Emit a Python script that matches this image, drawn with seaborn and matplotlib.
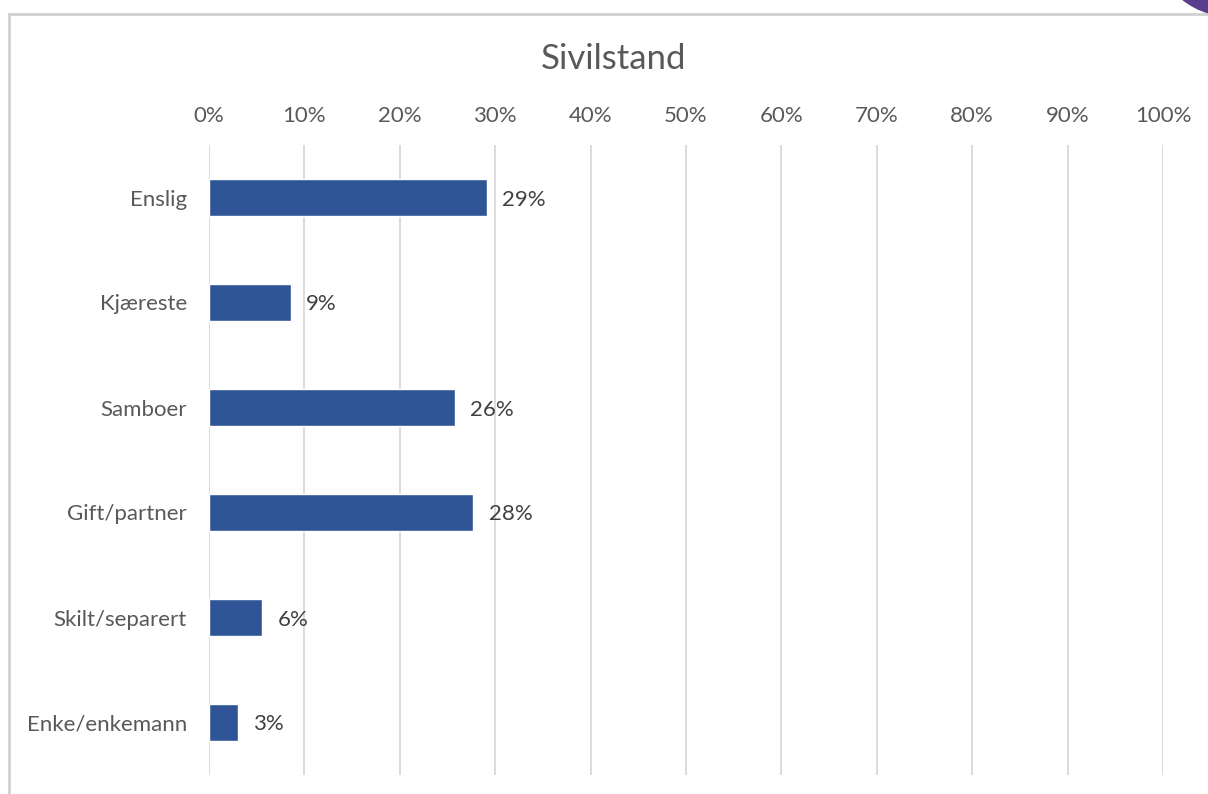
import matplotlib
matplotlib.use("Agg")
import matplotlib.pyplot as plt
import matplotlib.patches as mpatches
import pandas as pd
import seaborn as sns
from matplotlib.ticker import PercentFormatter

# data
kategorier = ["Enslig", "Kjæreste", "Samboer", "Gift/partner", "Skilt/separert", "Enke/enkemann"]
andel = [0.291, 0.086, 0.258, 0.277, 0.056, 0.030]
etiketter = ["29%", "9%", "26%", "28%", "6%", "3%"]

df = pd.DataFrame({"Sivilstand": kategorier, "Andel": andel})

sns.set_style("white")
plt.rcParams["font.family"] = ["Lato", "DejaVu Sans"]

fig = plt.figure(figsize=(12.08, 7.94), dpi=100)
ax = fig.add_axes([209 / 1208, 1 - 775 / 794, (1163 - 209) / 1208, (775 - 145) / 794])

sns.barplot(data=df, y="Sivilstand", x="Andel", color="#2F5597", saturation=1,
            width=0.35, ax=ax, zorder=3)

ax.set_xlim(0, 1)
ax.set_xticks([i / 10 for i in range(11)])
ax.xaxis.set_major_formatter(PercentFormatter(1.0, decimals=0))
ax.xaxis.tick_top()
ax.tick_params(axis="x", length=0, pad=14, labelsize=16, labelcolor="#595959")
ax.tick_params(axis="y", length=0, pad=16, labelsize=16, labelcolor="#595959")
ax.grid(axis="x", color="#d9d9d9", linewidth=1.3, zorder=0)
ax.set_xlabel("")
ax.set_ylabel("")
for s in ax.spines.values():
    s.set_visible(False)

for i, (v, t) in enumerate(zip(andel, etiketter)):
    ax.text(v + 0.016, i, t, va="center_baseline", ha="left", fontsize=16, color="#404040")

fig.text(614 / 1208, 1 - 59 / 794, "Sivilstand", ha="center", va="center",
         fontsize=25, color="#595959")

# ramme rundt diagrammet
fig.add_artist(mpatches.Rectangle((9 / 1208, -0.01), 1.1, 1 - 14 / 794 + 0.01,
                                  transform=fig.transFigure, fill=False,
                                  edgecolor="#d0d0d0", linewidth=2))
# lilla hjørne
fig.add_artist(mpatches.Ellipse((1230 / 1208, 1 + 60 / 794), 152 / 1208, 152 / 794,
                                transform=fig.transFigure, color="#5a3e8e"))

fig.savefig("out.png", dpi=100)
